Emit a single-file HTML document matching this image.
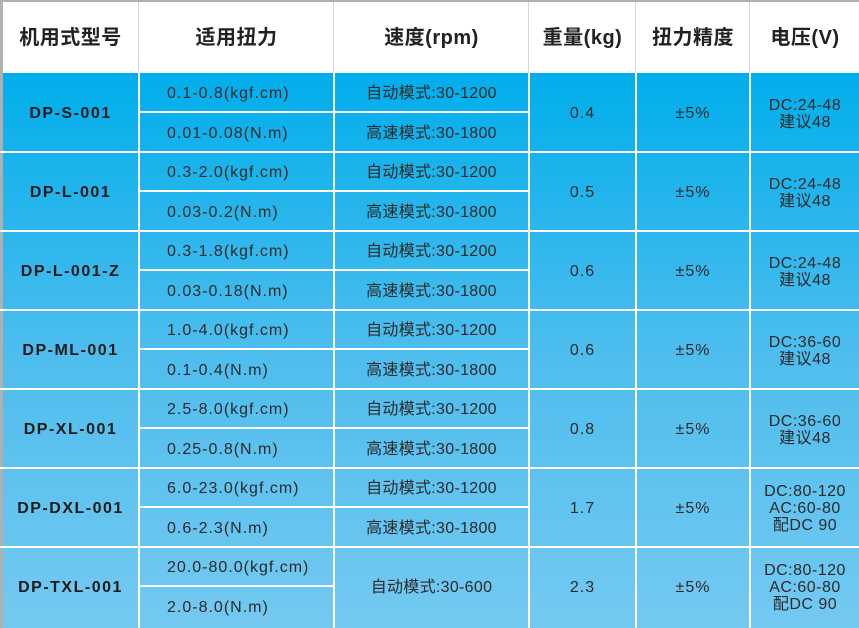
<!DOCTYPE html><html><head><meta charset="utf-8"><style>
body{margin:0;width:859px;height:628px;overflow:hidden;background:#fff;font-family:"Liberation Sans","Noto Sans CJK SC",sans-serif;}
#w{position:absolute;left:0;top:0;width:859px;height:628px;background:#b0b0b0;}
#h{position:absolute;left:3px;top:2px;width:856px;height:71px;background:#fff;}
#b{position:absolute;left:3px;top:73px;width:856px;height:555px;background:linear-gradient(#00aeeb,#4dbdee 50%,#74c9f1);}
.v{position:absolute;width:2px;background:#fff;}
.hv{position:absolute;width:1px;background:#d8d8d8;top:2px;height:71px;}
.hl{position:absolute;height:2px;background:#fff;}
.t{position:absolute;display:flex;align-items:center;justify-content:center;text-align:center;color:#2a2a2a;font-size:16px;line-height:17px;letter-spacing:1px;padding-top:2px;box-sizing:border-box;}
.l{justify-content:flex-start;padding-left:27px;}
.hd{font-size:20px;font-weight:bold;color:#222;letter-spacing:0.5px;}
.m{font-weight:bold;font-size:16px;color:#1a1a1a;letter-spacing:1.5px;}
</style></head><body><div id="w"></div><div id="h"></div><div id="b"></div>
<div class="v" style="left:138px;top:73px;height:555px"></div>
<div class="v" style="left:333px;top:73px;height:555px"></div>
<div class="v" style="left:528px;top:73px;height:555px"></div>
<div class="v" style="left:635px;top:73px;height:555px"></div>
<div class="v" style="left:749px;top:73px;height:555px"></div>
<div class="hv" style="left:138px"></div><div class="hv" style="left:333px"></div><div class="hv" style="left:528px"></div><div class="hv" style="left:635px"></div><div class="hv" style="left:749px"></div>
<div class="t hd" style="left:3px;top:2px;width:135px;height:71px">机用式型号</div>
<div class="t hd" style="left:140px;top:2px;width:193px;height:71px">适用扭力</div>
<div class="t hd" style="left:335px;top:2px;width:193px;height:71px">速度(rpm)</div>
<div class="t hd" style="left:530px;top:2px;width:105px;height:71px">重量(kg)</div>
<div class="t hd" style="left:637px;top:2px;width:112px;height:71px">扭力精度</div>
<div class="t hd" style="left:751px;top:2px;width:108px;height:71px">电压(V)</div>
<div id="rows"></div>
<script>
var d=[["DP-S-001","0.1-0.8(kgf.cm)","0.01-0.08(N.m)","0.4","DC:24-48<br>建议48"],
["DP-L-001","0.3-2.0(kgf.cm)","0.03-0.2(N.m)","0.5","DC:24-48<br>建议48"],
["DP-L-001-Z","0.3-1.8(kgf.cm)","0.03-0.18(N.m)","0.6","DC:24-48<br>建议48"],
["DP-ML-001","1.0-4.0(kgf.cm)","0.1-0.4(N.m)","0.6","DC:36-60<br>建议48"],
["DP-XL-001","2.5-8.0(kgf.cm)","0.25-0.8(N.m)","0.8","DC:36-60<br>建议48"],
["DP-DXL-001","6.0-23.0(kgf.cm)","0.6-2.3(N.m)","1.7","DC:80-120<br>AC:60-80<br>配DC 90"],
["DP-TXL-001","20.0-80.0(kgf.cm)","2.0-8.0(N.m)","2.3","DC:80-120<br>AC:60-80<br>配DC 90"]];
var h="";
d.forEach(function(r,i){var y=73+i*79;
if(i>0)h+='<div class="hl" style="left:0;top:'+(y-1)+'px;width:859px"></div>';
var sw=i==6?195:390;
h+='<div class="hl" style="left:139px;top:'+(y+38)+'px;width:'+sw+'px"></div>';
h+='<div class="t m" style="left:3px;top:'+y+'px;width:135px;height:79px">'+r[0]+'</div>';
h+='<div class="t l" style="left:140px;top:'+y+'px;width:193px;height:39px">'+r[1]+'</div>';
h+='<div class="t l" style="left:140px;top:'+(y+40)+'px;width:193px;height:39px">'+r[2]+'</div>';
if(i<6){h+='<div class="t" style="left:335px;top:'+y+'px;width:193px;height:39px;letter-spacing:0.3px">自动模式:30-1200</div>';
h+='<div class="t" style="left:335px;top:'+(y+40)+'px;width:193px;height:39px;letter-spacing:0.3px">高速模式:30-1800</div>';}
else h+='<div class="t" style="left:335px;top:'+y+'px;width:193px;height:79px;letter-spacing:0.3px">自动模式:30-600</div>';
h+='<div class="t" style="left:530px;top:'+y+'px;width:105px;height:79px">'+r[3]+'</div>';
h+='<div class="t" style="left:637px;top:'+y+'px;width:112px;height:79px">±5%</div>';
h+='<div class="t" style="left:751px;top:'+y+'px;width:108px;height:79px;line-height:17px;letter-spacing:0.5px">'+r[4]+'</div>';});
document.getElementById("rows").innerHTML=h;
</script></body></html>
